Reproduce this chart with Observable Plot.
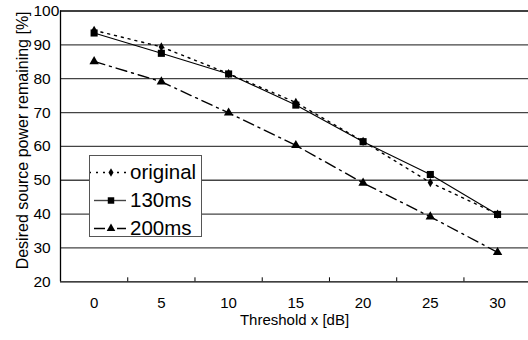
<!DOCTYPE html>
<html>
<head>
<meta charset="utf-8">
<script src="https://cdn.jsdelivr.net/npm/d3@7"></script>
<script src="https://cdn.jsdelivr.net/npm/@observablehq/plot@0.6"></script>
<style>
  html, body { margin: 0; padding: 0; background: #fff; }
  #wrap { position: relative; width: 528px; height: 340px; overflow: hidden; font-family: "Liberation Sans", Arial, sans-serif; }
  #legend { position: absolute; left: 89px; top: 155px; width: 111px; height: 80px; background: #fff; border: 1px solid #555; }
  .row { position: absolute; left: 0; height: 28px; width: 111px; }
  .row svg { position: absolute; left: 0; top: 0; }
  .row span { position: absolute; left: 40px; top: 0; line-height: 28px; font-size: 20.5px; color: #000; }
</style>
</head>
<body>
<div id="wrap"></div>
<script>
const thresholds = [0, 5, 10, 15, 20, 25, 30];
const seriesNames = ["original", "130ms", "200ms"];
const original = [94.3, 89.4, 81.5, 73.0, 61.5, 49.3, 40.0];
const ms130 = [93.5, 87.5, 81.4, 72.2, 61.4, 51.7, 39.9];
const ms200 = [85.1, 79.1, 69.9, 60.3, 49.2, 39.2, 28.7];
const yTicks = [20, 30, 40, 50, 60, 70, 80, 90, 100];
const xTickLabels = [0, 5, 10, 15, 20, 25, 30];
const xGapTicks = [2.5, 7.5, 12.5, 17.5, 22.5, 27.5];
const xTitle = "Threshold x [dB]";
const yTitle = "Desired source power remaining [%]";

const seriesValues = [original, ms130, ms200];
const rows = seriesNames.flatMap((s, i) => thresholds.map((x, j) => ({series: s, x, y: seriesValues[i][j]})));
const styles = {
  original: {dash: "2,5", symbol: "diamond", r: 2.8},
  "130ms": {dash: null, symbol: "square", r: 4.0},
  "200ms": {dash: "11,5,2,5", symbol: "triangle", r: 3.5}
};

const W = 528, H = 340, mT = 10.5, mB = 58.7, mL = 60, mR = 0;
const xDomain = [-2.5, 32.3];
const yDomain = [20, 100];
const frameH = H - mT - mB;

const marks = [
  Plot.ruleY(yTicks.filter(v => v > 20 && v < 100), {y: d => d, stroke: "#444", strokeWidth: 1.3}),
  Plot.ruleY([yDomain[1]], {y: d => d, stroke: "#000", strokeWidth: 1.3}),
  Plot.ruleY([yDomain[0]], {y: d => d, stroke: "#000", strokeWidth: 1.3}),
  Plot.ruleX([xDomain[0]], {x: d => d, stroke: "#000", strokeWidth: 1.3}),
  Plot.tickX(xGapTicks, {x: d => d, stroke: "#000", strokeWidth: 1, insetTop: frameH - 4})
];
for (const s of seriesNames) {
  const st = styles[s];
  const data = rows.filter(d => d.series === s);
  marks.push(Plot.line(data, {x: "x", y: "y", stroke: "#000", strokeWidth: s === "130ms" ? 1.1 : 1.4, strokeDasharray: st.dash}));
}
for (const s of ["130ms", "200ms", "original"]) {
  const st = styles[s];
  const data = rows.filter(d => d.series === s);
  marks.push(Plot.dot(data, {x: "x", y: "y", symbol: () => st.symbol, r: st.r, fill: "#000", stroke: "none"}));
}
marks.push(
  Plot.axisX({ticks: xTickLabels, tickSize: 0, tickPadding: 16, fontSize: 15, label: null, tickFormat: d => String(d)}),
  Plot.axisY({ticks: yTicks, tickSize: 0, tickPadding: 3, textAnchor: "start", dx: -24, fontSize: 15.5,
    fontFamily: "'Liberation Sans Narrow', 'Arial Narrow', 'Liberation Sans', sans-serif", label: null, tickFormat: d => String(d)}),
  Plot.text([yTitle], {text: d => d, frameAnchor: "left", rotate: -90, dx: -38, dy: -6, fontSize: 16, textAnchor: "middle", lineAnchor: "middle"}),
  Plot.text([xTitle], {text: d => d, frameAnchor: "bottom", dy: 38, fontSize: 15, textAnchor: "middle", lineAnchor: "middle"})
);

const chart = Plot.plot({
  width: W, height: H,
  marginTop: mT, marginBottom: mB, marginLeft: mL, marginRight: mR,
  x: {type: "linear", domain: xDomain},
  y: {type: "linear", domain: yDomain},
  symbol: {type: "identity"},
  style: {fontFamily: "'Liberation Sans', Arial, sans-serif", color: "#000", background: "#fff", overflow: "visible"},
  marks
});
const wrap = document.getElementById("wrap");
wrap.appendChild(chart);

// Legend overlay
const legend = document.createElement("div");
legend.id = "legend";
const symbolPaths = {
  diamond: d3.symbol(d3.symbolDiamond, 22)(),
  square: d3.symbol(d3.symbolSquare, 42)(),
  triangle: d3.symbol(d3.symbolTriangle, 32)()
};
seriesNames.forEach((s, i) => {
  const st = styles[s];
  const row = document.createElement("div");
  row.className = "row";
  row.style.top = (2 + i * 28) + "px";
  const svg = d3.create("svg").attr("width", 40).attr("height", 28);
  svg.append("line").attr("x1", i === 0 ? -1 : 4).attr("x2", 36).attr("y1", 14.5).attr("y2", 14.5)
    .attr("stroke", i === 1 ? "#444" : "#000").attr("stroke-width", 1.4)
    .attr("stroke-dasharray", st.dash === "2,5" ? "2,5" : st.dash === null ? null : "11,5,2,5");
  svg.append("path").attr("d", symbolPaths[st.symbol]).attr("transform", "translate(21,14.5)").attr("fill", "#000");
  row.appendChild(svg.node());
  const span = document.createElement("span");
  span.textContent = s;
  row.appendChild(span);
  legend.appendChild(row);
});
wrap.appendChild(legend);
</script>
</body>
</html>
